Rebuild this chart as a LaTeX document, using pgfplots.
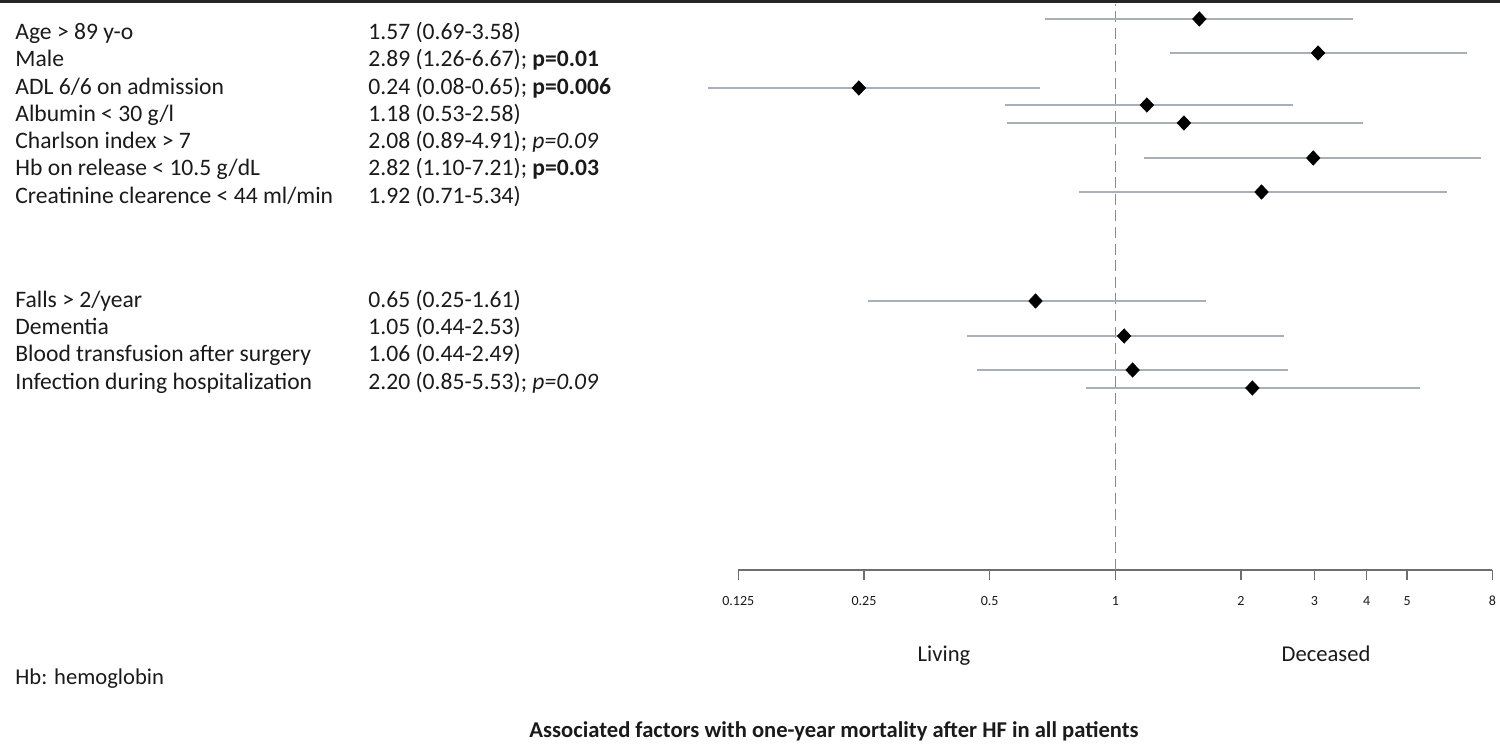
\documentclass[border=0pt]{standalone}
\usepackage{fontspec}
\setmainfont{Carlito}
\usepackage{pgfplots}
\usepackage{pgfplotstable}
\pgfplotsset{compat=1.18}

\definecolor{cigray}{HTML}{A9AFB9}
\definecolor{refgray}{HTML}{8A8A8A}
\definecolor{axgray}{HTML}{6E6E6E}
\definecolor{ink}{HTML}{1A1A1A}

% odds ratio, CI low, CI high, row height above the x axis
\pgfplotstableread{
pt    lo    hi    y
1.59  0.68  3.71  551
3.06  1.35  6.95  517
0.243 0.106 0.66  482
1.19  0.544 2.66  465
1.46  0.55  3.92  447
2.98  1.17  7.52  412
2.24  0.82  6.23  378
0.644 0.256 1.65  269
1.05  0.442 2.54  234
1.10  0.466 2.59  200
2.13  0.85  5.36  182
}\forestdata

\begin{document}
\begin{tikzpicture}
\useasboundingbox (0,0) rectangle (750pt,-377pt);
\fill[black!85] (0,0) rectangle (750pt,-1.5pt);
\begin{axis}[
    at={(369.15pt,-285pt)}, anchor=south west,
    scale only axis, width=377pt, height=285pt,
    xmode=log, log basis x=2,
    xmin=0.125, xmax=8, ymin=0, ymax=570,
    axis x line*=bottom, axis y line=none,
    axis line style={draw=axgray, line width=1pt},
    xtick={0.125,0.25,0.5,1,2,3,4,5,8},
    xticklabels={0.125,0.25,0.5,1,2,3,4,5,8},
    minor xtick={},
    tick align=outside, major tick length=5pt,
    tick style={draw=axgray, line width=0.8pt},
    xticklabel style={font=\fontsize{7}{8}\selectfont, text=ink, yshift=-4.5pt},
    clip=false,
  ]
  \addplot[refgray, line width=0.7pt, dash pattern=on 5.5pt off 2.8pt]
    coordinates {(1,0) (1,566)};
  \addplot[draw=none, mark=none,
    error bars/.cd, x dir=both, x explicit, error mark=none,
    error bar style={draw=cigray, line width=1pt}]
    table[x=pt, y=y,
      x error plus expr=\thisrow{hi}-\thisrow{pt},
      x error minus expr=\thisrow{pt}-\thisrow{lo}] {\forestdata};
  \addplot[only marks, mark=diamond*, mark size=3.6pt,
    mark options={fill=black, draw=black, xscale=1.25, line width=0.3pt}]
    table[x=pt, y=y] {\forestdata};
\end{axis}
\begin{scope}[x=0.5pt, y=-0.5pt,
  every node/.style={anchor=base west, inner sep=0pt, text=ink,
    font=\fontsize{11.8}{14}\selectfont}]
  \node at (15,40) {Age > 89 y-o};
  \node at (15,67) {Male};
  \node at (15,95) {ADL 6/6 on admission};
  \node at (15,122) {Albumin < 30 g/l};
  \node at (15,149) {Charlson index > 7};
  \node at (15,176) {Hb on release < 10.5 g/dL};
  \node at (15,204) {Creatinine clearence < 44 ml/min};
  \node at (15,308) {Falls > 2/year};
  \node at (15,335) {Dementia};
  \node at (15,362) {Blood transfusion after surgery};
  \node at (15,389) {Infection during hospitalization};
  \node at (368,40) {1.57 (0.69-3.58)};
  \node at (368,67) {2.89 (1.26-6.67); \textbf{p=0.01}};
  \node at (368,95) {0.24 (0.08-0.65); \textbf{p=0.006}};
  \node at (368,122) {1.18 (0.53-2.58)};
  \node at (368,149) {2.08 (0.89-4.91); \textit{p=0.09}};
  \node at (368,176) {2.82 (1.10-7.21); \textbf{p=0.03}};
  \node at (368,204) {1.92 (0.71-5.34)};
  \node at (368,308) {0.65 (0.25-1.61)};
  \node at (368,335) {1.05 (0.44-2.53)};
  \node at (368,362) {1.06 (0.44-2.49)};
  \node at (368,389) {2.20 (0.85-5.53); \textit{p=0.09}};
  \begin{scope}[every node/.append style={font=\fontsize{11.3}{13}\selectfont}]
    \node[anchor=base] at (944,661) {Living};
    \node[anchor=base] at (1326,661) {Deceased};
    \node at (15,684) {Hb: hemoglobin};
    \node[anchor=base, font=\fontsize{11.3}{13}\selectfont\bfseries] at (834,737)
      {Associated factors with one-year mortality after HF in all patients};
  \end{scope}
\end{scope}
\end{tikzpicture}
\end{document}
